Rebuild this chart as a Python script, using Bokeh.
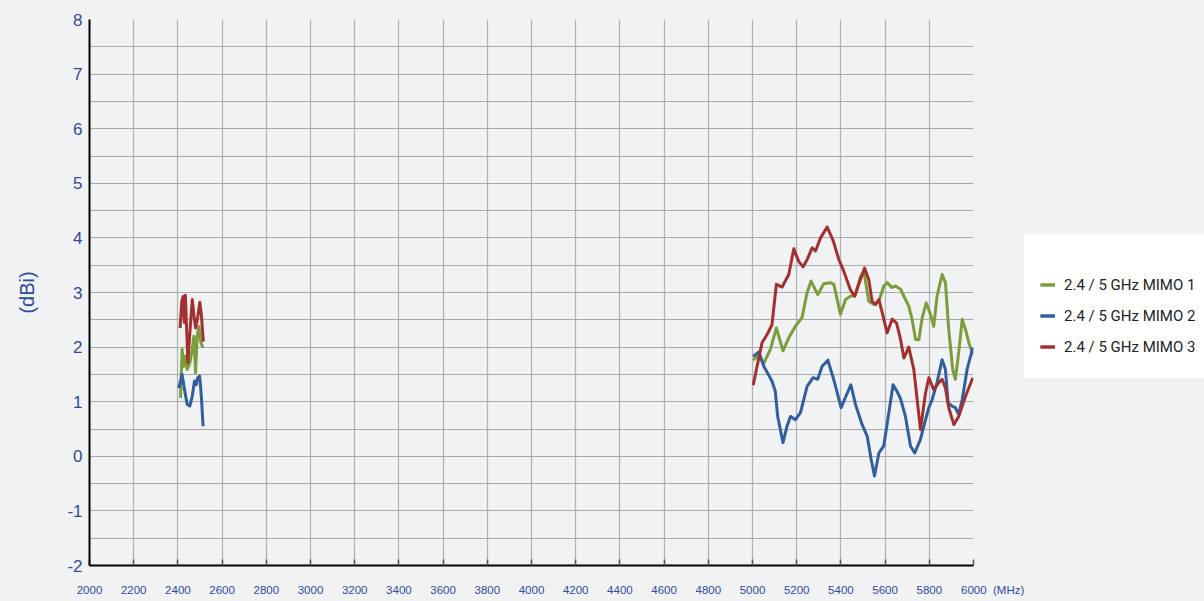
import numpy as np
from bokeh.plotting import figure
from bokeh.models import Range1d, FixedTicker, Legend, LegendItem
from bokeh.embed import file_html
from bokeh.resources import INLINE

# ---------------- data ----------------
x_ticks = list(range(2000, 6001, 200))
x_unit = "(MHz)"
y_ticks = list(range(-2, 9))
y_grid = [v / 2 for v in range(-4, 17)]

series_names = ["2.4 / 5 GHz MIMO 1", "2.4 / 5 GHz MIMO 2", "2.4 / 5 GHz MIMO 3"]
series_colors = ["#7a9e3c", "#2f5f9f", "#a3302f"]

# MIMO 1 (green)
m1_24_f = [2412, 2419, 2427, 2434, 2442, 2454, 2465, 2472, 2480, 2487, 2495, 2502, 2510, 2514]
m1_24_v = [1.07, 1.96, 1.65, 1.83, 1.59, 1.71, 1.96, 2.20, 1.53, 2.20, 2.38, 2.11, 2.02, 1.99]
m1_5_f = [5003, 5029, 5051, 5081, 5108, 5138, 5164, 5194, 5224, 5247, 5265, 5295, 5322, 5353,
          5368, 5398, 5421, 5443, 5466, 5489, 5504, 5526, 5549, 5572, 5594, 5609, 5632, 5647,
          5670, 5677, 5707, 5722, 5738, 5753, 5768, 5786, 5805, 5820, 5835, 5858, 5873, 5888,
          5906, 5918, 5933, 5949, 5964, 5979, 5997]
m1_5_v = [1.76, 1.85, 1.70, 1.96, 2.35, 1.93, 2.17, 2.38, 2.54, 3.00, 3.21, 2.96, 3.16, 3.18,
          3.15, 2.60, 2.87, 2.93, 2.96, 3.30, 3.39, 2.84, 2.78, 2.84, 3.12, 3.18, 3.09, 3.12,
          3.06, 3.00, 2.75, 2.51, 2.14, 2.14, 2.54, 2.81, 2.60, 2.38, 2.93, 3.33, 3.18, 2.32,
          1.59, 1.41, 1.90, 2.51, 2.32, 2.08, 1.86]

# MIMO 2 (blue)
m2_24_f = [2404, 2419, 2430, 2442, 2454, 2465, 2475, 2483, 2490, 2498, 2502, 2507, 2514]
m2_24_v = [1.25, 1.50, 1.22, 0.95, 0.92, 1.10, 1.38, 1.31, 1.44, 1.47, 1.31, 1.04, 0.55]
m2_5_f = [5003, 5029, 5051, 5088, 5103, 5114, 5138, 5156, 5172, 5194, 5217, 5247, 5274, 5295,
          5315, 5341, 5368, 5401, 5428, 5445, 5466, 5496, 5519, 5537, 5552, 5572, 5594, 5617,
          5636, 5654, 5670, 5692, 5715, 5734, 5760, 5783, 5798, 5813, 5835, 5858, 5873, 5885,
          5903, 5918, 5933, 5949, 5971, 5997]
m2_5_v = [1.83, 1.91, 1.65, 1.38, 1.19, 0.73, 0.25, 0.55, 0.73, 0.67, 0.80, 1.28, 1.44, 1.41,
          1.65, 1.76, 1.40, 0.89, 1.15, 1.31, 0.95, 0.58, 0.37, -0.06, -0.36, 0.06, 0.19, 0.80,
          1.31, 1.19, 1.05, 0.73, 0.19, 0.06, 0.31, 0.67, 0.89, 1.04, 1.35, 1.77, 1.59, 0.98,
          0.92, 0.89, 0.77, 1.04, 1.59, 1.99]

# MIMO 3 (red)
m3_24_f = [2410, 2418, 2424, 2429, 2434, 2445, 2455, 2465, 2472, 2480, 2490, 2499, 2506, 2515]
m3_24_v = [2.35, 2.85, 2.93, 2.45, 2.95, 1.72, 2.30, 2.87, 2.60, 2.35, 2.55, 2.82, 2.60, 2.10]
m3_5_f = [5003, 5043, 5066, 5088, 5108, 5134, 5164, 5187, 5209, 5229, 5247, 5270, 5285, 5308,
          5338, 5365, 5391, 5413, 5443, 5462, 5481, 5507, 5526, 5541, 5557, 5572, 5587, 5609,
          5632, 5652, 5670, 5685, 5707, 5730, 5760, 5783, 5798, 5820, 5843, 5858, 5873, 5888,
          5911, 5933, 5964, 5997]
m3_5_v = [1.30, 2.08, 2.23, 2.41, 3.15, 3.10, 3.33, 3.80, 3.57, 3.47, 3.60, 3.82, 3.76, 4.00,
          4.20, 3.95, 3.60, 3.39, 3.05, 2.93, 3.15, 3.45, 3.24, 2.84, 2.78, 2.87, 2.63, 2.26,
          2.51, 2.44, 2.14, 1.80, 2.00, 1.59, 0.49, 1.16, 1.44, 1.22, 1.35, 1.41, 1.25, 0.89,
          0.58, 0.73, 1.10, 1.44]

# ---------------- styling ----------------
BG = "#f1f2f4"
TXT = "#2d4b9b"
NB = "\u00a0"

p = figure(frame_width=884, frame_height=546,
           min_border_left=89, min_border_right=230, min_border_top=19, min_border_bottom=35,
           x_range=Range1d(2000, 6000), y_range=Range1d(-2, 8),
           output_backend="svg", toolbar_location=None,
           background_fill_color=BG, border_fill_color=BG, outline_line_color=None)

p.xgrid.ticker = FixedTicker(ticks=x_ticks)
p.xgrid.grid_line_color = "#b3b3b3"
p.xgrid.grid_line_width = 1.3
p.ygrid.ticker = FixedTicker(ticks=y_grid)
p.ygrid.grid_line_color = "#a9a9a9"
p.ygrid.grid_line_width = 1.2

p.xaxis.ticker = FixedTicker(ticks=x_ticks)
# last tick label carries the unit to its right (padding keeps "6000" centred on its tick)
p.xaxis.major_label_overrides = {x_ticks[-1]: NB * 12 + str(x_ticks[-1]) + NB * 2 + x_unit}
p.xaxis.axis_line_color = "black"
p.xaxis.axis_line_width = 2
p.xaxis.major_tick_in = 6
p.xaxis.major_tick_out = 0
p.xaxis.major_tick_line_color = "#555555"
p.xaxis.major_tick_line_width = 1.5
p.xaxis.minor_tick_line_color = None
p.xaxis.major_label_text_font = "Liberation Sans"
p.xaxis.major_label_text_font_size = "11.5px"
p.xaxis.major_label_text_color = TXT
p.xaxis.major_label_standoff = 18

p.yaxis.ticker = FixedTicker(ticks=y_ticks)
p.yaxis.major_label_overrides = {t: str(t) for t in y_ticks}
p.yaxis.axis_line_color = "black"
p.yaxis.axis_line_width = 2
p.yaxis.major_tick_in = 0
p.yaxis.major_tick_out = 0
p.yaxis.minor_tick_line_color = None
p.yaxis.major_label_text_font = "Liberation Sans"
p.yaxis.major_label_text_font_size = "17px"
p.yaxis.major_label_text_color = TXT
p.yaxis.major_label_standoff = 7
p.yaxis.axis_label = "(dBi)"
p.yaxis.axis_label_text_font = "Liberation Sans"
p.yaxis.axis_label_text_font_size = "20px"
p.yaxis.axis_label_text_font_style = "normal"
p.yaxis.axis_label_text_color = TXT
p.yaxis.axis_label_standoff = 26

groups = [
    (m1_24_f, m1_24_v, m1_5_f, m1_5_v),
    (m2_24_f, m2_24_v, m2_5_f, m2_5_v),
    (m3_24_f, m3_24_v, m3_5_f, m3_5_v),
]
items = []
for (fa, va, fb, vb), name, col in zip(groups, series_names, series_colors):
    r1 = p.line(fa, va, line_color=col, line_width=3, line_join="round")
    r2 = p.line(fb, vb, line_color=col, line_width=3, line_join="round")
    items.append(LegendItem(label=name, renderers=[r1, r2]))

legend = Legend(items=items, location=(51, 187), orientation="vertical",
                background_fill_color="#ffffff", background_fill_alpha=1.0,
                border_line_color="#ffffff", border_line_width=1,
                padding=15, spacing=0, margin=0,
                glyph_width=15, glyph_height=31, label_height=31, label_standoff=9,
                label_text_font="Roboto", label_text_font_size="15px",
                label_text_color="#222222", click_policy="none",
                title=NB, title_text_font_size="12px", title_standoff=5)
p.add_layout(legend, "right")

html = file_html(p, INLINE)
html = html.replace("<head>", "<head><style>html,body{background:#f1f2f4;}</style>", 1)
open("out.html", "w").write(html)
